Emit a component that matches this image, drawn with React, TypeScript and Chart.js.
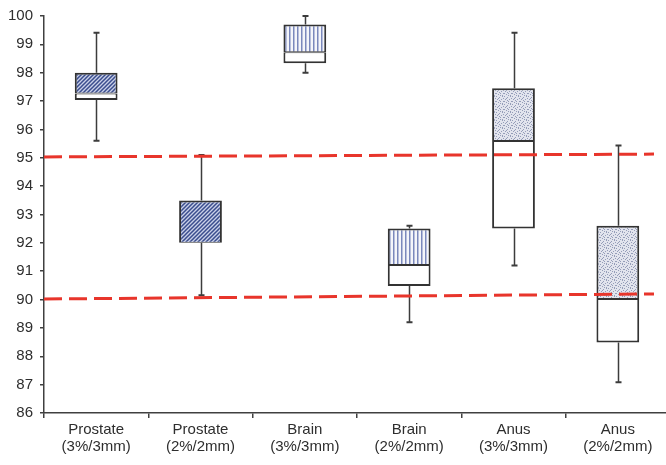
import React, { useEffect, useRef } from "react";
import { Chart, registerables } from "chart.js";

Chart.register(...registerables);

const categories: string[][] = [
  ["Prostate", "(3%/3mm)"],
  ["Prostate", "(2%/2mm)"],
  ["Brain", "(3%/3mm)"],
  ["Brain", "(2%/2mm)"],
  ["Anus", "(3%/3mm)"],
  ["Anus", "(2%/2mm)"],
];
const whiskerMin = [95.6, 90.15, 98.0, 89.2, 91.2, 87.08];
const q1 = [97.04, 92.0, 98.33, 90.48, 92.51, 88.49];
const median = [97.27, 92.0, 98.72, 91.22, 95.59, 90.02];
const q3 = [98.0, 93.49, 99.7, 92.51, 97.45, 92.6];
const whiskerMax = [99.41, 95.1, 100.0, 92.6, 99.41, 95.43];
const patternKinds = ["diagonal", "diagonal", "vertical", "vertical", "dots", "dots"];
const thresholdStart = [95.03, 90.02];
const thresholdEnd = [95.13, 90.2];
const yMin = 86;
const yMax = 100;

function makePattern(kind: string): CanvasPattern | string {
  const c = document.createElement("canvas");
  const g = c.getContext("2d");
  if (!g) return "#8c9ac8";
  if (kind === "diagonal") {
    c.width = 4;
    c.height = 4;
    g.fillStyle = "#c9d0e8";
    g.fillRect(0, 0, 4, 4);
    g.strokeStyle = "#3a4d8e";
    g.lineWidth = 1.5;
    g.beginPath();
    g.moveTo(-1, 5);
    g.lineTo(5, -1);
    g.moveTo(-1, 1);
    g.lineTo(1, -1);
    g.moveTo(3, 5);
    g.lineTo(5, 3);
    g.stroke();
  } else if (kind === "vertical") {
    c.width = 4;
    c.height = 4;
    g.fillStyle = "#f4f5fa";
    g.fillRect(0, 0, 4, 4);
    g.fillStyle = "#7a88bc";
    g.fillRect(1, 0, 1.5, 4);
  } else {
    c.width = 8;
    c.height = 8;
    g.fillStyle = "#e2e4ee";
    g.fillRect(0, 0, 8, 8);
    g.fillStyle = "#959db9";
    const dots = [
      [0, 0], [3, 1], [6, 0], [1, 3], [5, 3], [7, 5], [2, 6], [4, 5], [6, 7], [0, 5],
      [2, 2], [7, 2], [4, 7], [3, 4],
    ];
    dots.forEach(([dx, dy]) => g.fillRect(dx, dy, 1, 1));
  }
  const p = g.createPattern(c, "repeat");
  return p || "#8c9ac8";
}

const boxExtras = {
  id: "boxExtras",
  beforeDatasetsDraw(chart: any) {
    const { ctx, scales } = chart;
    const x = scales.x;
    const y = scales.y;
    ctx.save();
    ctx.strokeStyle = "#3c3c3c";
    for (let i = 0; i < categories.length; i++) {
      const cx = Math.round(x.getPixelForValue(i)) + 0.5;
      ctx.lineWidth = 1.5;
      ctx.beginPath();
      ctx.moveTo(cx, y.getPixelForValue(whiskerMax[i]));
      ctx.lineTo(cx, y.getPixelForValue(q3[i]));
      ctx.moveTo(cx, y.getPixelForValue(q1[i]));
      ctx.lineTo(cx, y.getPixelForValue(whiskerMin[i]));
      ctx.stroke();
      ctx.lineWidth = 2;
      ctx.beginPath();
      ctx.moveTo(cx - 3, y.getPixelForValue(whiskerMax[i]));
      ctx.lineTo(cx + 3, y.getPixelForValue(whiskerMax[i]));
      ctx.moveTo(cx - 3, y.getPixelForValue(whiskerMin[i]));
      ctx.lineTo(cx + 3, y.getPixelForValue(whiskerMin[i]));
      ctx.stroke();
    }
    ctx.restore();
  },
  afterDatasetsDraw(chart: any) {
    const { ctx, scales, chartArea } = chart;
    const y = scales.y;
    ctx.save();
    ctx.strokeStyle = "#e8352b";
    ctx.lineWidth = 3;
    ctx.setLineDash([18, 7]);
    for (let k = 0; k < thresholdStart.length; k++) {
      ctx.beginPath();
      ctx.moveTo(chartArea.left, y.getPixelForValue(thresholdStart[k]));
      ctx.lineTo(chartArea.right - 16, y.getPixelForValue(thresholdEnd[k]));
      ctx.stroke();
    }
    ctx.restore();
  },
};

export default function App() {
  const ref = useRef<HTMLCanvasElement | null>(null);
  useEffect(() => {
    if (!ref.current) return;
    const fills = patternKinds.map((k) => makePattern(k));
    const font = { family: "'Liberation Sans', Arial, sans-serif", size: 15 };
    const chart = new Chart(ref.current, {
      type: "bar",
      data: {
        labels: categories,
        datasets: [
          {
            label: "upper",
            data: q3.map((v, i) => [median[i], v]) as any,
            backgroundColor: fills as any,
            borderColor: "#333333",
            borderWidth: { top: 2, left: 2, right: 2, bottom: 1 } as any,
            borderSkipped: false,
            grouped: false,
            categoryPercentage: 1,
            barPercentage: 0.41,
          },
          {
            label: "lower",
            data: q1.map((v, i) => [v, median[i]]) as any,
            backgroundColor: "#ffffff",
            borderColor: "#333333",
            borderWidth: { top: 1, left: 2, right: 2, bottom: 2 } as any,
            borderSkipped: false,
            grouped: false,
            categoryPercentage: 1,
            barPercentage: 0.41,
          },
        ],
      },
      options: {
        responsive: false,
        animation: false,
        layout: { padding: { top: 16, left: 0, right: 0, bottom: 0 } },
        plugins: { legend: { display: false }, tooltip: { enabled: false } },
        scales: {
          x: {
            offset: true,
            afterFit: (s: any) => {
              s.height = 52;
            },
            grid: {
              display: true,
              offset: true,
              drawOnChartArea: false,
              drawTicks: true,
              tickLength: 5,
              color: "#404040",
              lineWidth: 1.5,
            },
            border: { display: true, color: "#404040", width: 1.5 },
            ticks: {
              font: { ...font, lineHeight: 1.1 },
              color: "#2e2e2e",
              padding: 4,
              maxRotation: 0,
              autoSkip: false,
            },
          },
          y: {
            min: yMin,
            max: yMax,
            afterFit: (s: any) => {
              s.width = 44;
            },
            grid: {
              display: true,
              drawOnChartArea: false,
              drawTicks: true,
              tickLength: 4,
              color: "#404040",
              lineWidth: 1.5,
            },
            border: { display: true, color: "#404040", width: 1.5 },
            ticks: {
              stepSize: 1,
              font,
              color: "#2e2e2e",
              padding: 7,
            },
          },
        },
      },
      plugins: [boxExtras],
    });
    return () => chart.destroy();
  }, []);
  return (
    <div
      style={{
        position: "absolute",
        left: 0,
        top: 0,
        width: 666,
        height: 465,
        overflow: "hidden",
        background: "#ffffff",
      }}
    >
      <canvas ref={ref} width={670} height={465} style={{ display: "block" }} />
    </div>
  );
}
